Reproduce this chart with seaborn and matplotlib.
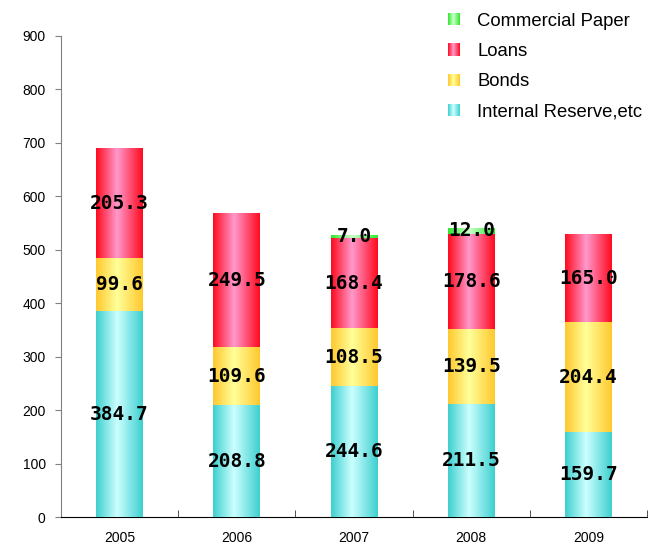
import numpy as np
import pandas as pd
import seaborn as sns
import matplotlib.pyplot as plt
from matplotlib.colors import LinearSegmentedColormap
from matplotlib.legend_handler import HandlerBase
from matplotlib.patches import Rectangle

# dados
years = ['2005', '2006', '2007', '2008', '2009']
internal = [384.7, 208.8, 244.6, 211.5, 159.7]
bonds = [99.6, 109.6, 108.5, 139.5, 204.4]
loans = [205.3, 249.5, 168.4, 178.6, 165.0]
paper = [0.0, 0.0, 7.0, 12.0, 0.0]

series = ['Internal Reserve,etc', 'Bonds', 'Loans', 'Commercial Paper']
edge_colors = ['#3ECFCF', '#FFC82E', '#FF0A1E', '#2EE82E']
mid_colors = ['#CCFFFF', '#FFFF99', '#FF99CC', '#CCFFCC']

values = np.array([internal, bonds, loans, paper])
tops = values.cumsum(axis=0)

cmaps = [LinearSegmentedColormap.from_list('g%d' % i, [(0, e), (0.45, m), (1, e)])
         for i, (e, m) in enumerate(zip(edge_colors, mid_colors))]

sns.set_style('white')
plt.rcParams['font.family'] = ['Liberation Sans', 'DejaVu Sans']
plt.rcParams['text.color'] = 'black'
plt.rcParams['xtick.color'] = 'black'
plt.rcParams['ytick.color'] = 'black'

fig = plt.figure(figsize=(6.51, 5.47), dpi=100)
ax = fig.add_axes([0.0937, 0.0548, 0.9003, 0.8794])

grad = np.linspace(0, 1, 256).reshape(1, -1)

# barras empilhadas: desenha do topo para a base, cada camada cobre a anterior
for k in range(len(series) - 1, -1, -1):
    n_before = len(ax.patches)
    df = pd.DataFrame({'ano': years, 'valor': tops[k]})
    sns.barplot(data=df, x='ano', y='valor', color=edge_colors[k], width=0.4,
                ax=ax, zorder=2 + (3 - k) * 2)
    for p in ax.patches[n_before:]:
        x0, y0 = p.get_x(), p.get_y()
        w, h = p.get_width(), p.get_height()
        p.set_facecolor('none')
        p.set_edgecolor('none')
        im = ax.imshow(grad, cmap=cmaps[k], extent=(x0, x0 + w, y0, y0 + h),
                       aspect='auto', zorder=3 + (3 - k) * 2, interpolation='bilinear')
        im.set_clip_path(p)

# rótulos dos valores no meio de cada segmento
for k in range(len(series)):
    for i in range(len(years)):
        v = values[k][i]
        if v <= 0:
            continue
        mid = tops[k][i] - v / 2
        ax.text(i, mid, '%.1f' % v, ha='center', va='center', fontsize=14,
                fontweight='bold', family='DejaVu Sans Mono', color='black', zorder=20)

ax.set_xlim(-0.5, 4.5)
ax.set_ylim(0, 900)
ax.set_yticks(range(0, 901, 100))
ax.set_xlabel('')
ax.set_ylabel('')
ax.set_xticks(range(len(years)))
ax.set_xticklabels(years)
ax.set_xticks(np.arange(-0.5, 4.6, 1), minor=True)
ax.tick_params(axis='x', which='major', length=0, pad=10, labelsize=10)
ax.tick_params(axis='x', which='minor', direction='in', length=5, color='#333333',
               bottom=True)
ax.tick_params(axis='y', left=True, direction='out', length=4, color='#808080',
               pad=7, labelsize=10)

sns.despine(ax=ax)
ax.spines['left'].set_color('#808080')
ax.spines['bottom'].set_color('#000000')


class GradHandler(HandlerBase):
    def __init__(self, cmap):
        super().__init__()
        self.cmap = cmap

    def create_artists(self, legend, orig_handle, xdescent, ydescent, width,
                       height, fontsize, trans):
        n = 12
        arts = []
        for i in range(n):
            r = Rectangle((-xdescent + width * i / n, -ydescent), width / n, height,
                          facecolor=self.cmap((i + 0.5) / n), edgecolor='none',
                          transform=trans)
            arts.append(r)
        return arts


handles = [Rectangle((0, 0), 1, 1) for _ in series]
hmap = {h: GradHandler(c) for h, c in zip(handles, cmaps)}
order = [3, 2, 1, 0]
fig.legend([handles[i] for i in order], [series[i] for i in order],
           handler_map=hmap, loc='upper left', bbox_to_anchor=(431 / 651, 1 + 4 / 547),
           frameon=False, fontsize=13.3, handlelength=0.65, handleheight=0.65,
           handletextpad=0.95, labelspacing=0.72)

fig.savefig('out.png', dpi=100)
